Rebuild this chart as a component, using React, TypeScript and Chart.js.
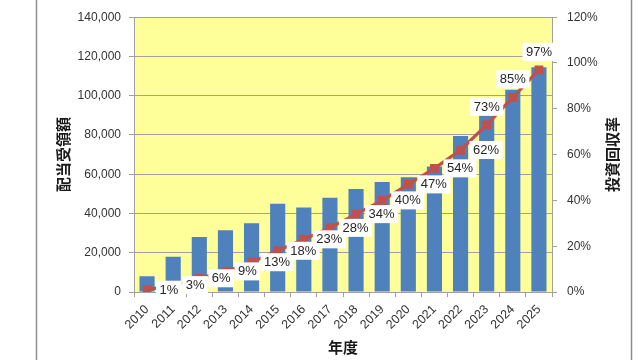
import React, { useEffect, useRef } from "react";
import { Chart, registerables } from "chart.js";

Chart.register(...registerables);

const years = ["2010", "2011", "2012", "2013", "2014", "2015", "2016", "2017", "2018", "2019", "2020", "2021", "2022", "2023", "2024", "2025"];
const dividends = [8000, 18000, 28000, 31500, 35000, 45000, 43000, 48000, 52500, 56000, 58500, 64000, 79500, 90000, 103000, 114500];
const recoveryRate = [1, 3, 6, 9, 13, 18, 23, 28, 34, 40, 47, 54, 62, 73, 85, 97];
const labelsAboveFrom = 13;

const leftTitle = "配当受領額";
const rightTitle = "投資回収率";
const xTitle = "年度";

const TICK_FONT = { family: "'Liberation Sans', Arial, sans-serif", size: 12 };
const X_TICK_FONT = { family: "'Liberation Sans', Arial, sans-serif", size: 12.5 };
const TICK_COLOR = "#333333";
const GRID = "#a0a0a0";

const decorPlugin = {
  id: "decor",
  beforeDraw(chart: any) {
    const { ctx, chartArea } = chart;
    ctx.save();
    ctx.fillStyle = "#FFFF99";
    ctx.fillRect(chartArea.left, chartArea.top, chartArea.right - chartArea.left, chartArea.bottom - chartArea.top);
    ctx.strokeStyle = "#8e8e8e";
    ctx.lineWidth = 1.5;
    ctx.beginPath();
    ctx.moveTo(36.5, 0);
    ctx.lineTo(36.5, chart.height);
    ctx.moveTo(631.5, 0);
    ctx.lineTo(631.5, chart.height);
    ctx.stroke();
    ctx.restore();
  },
  afterDraw(chart: any) {
    const { ctx, chartArea } = chart;
    const cy = (chartArea.top + chartArea.bottom) / 2;
    const cx = (chartArea.left + chartArea.right) / 2;
    ctx.save();
    ctx.fillStyle = "#1a1a1a";
    ctx.font = "bold 15px 'Noto Sans CJK JP', sans-serif";
    ctx.textAlign = "center";
    ctx.textBaseline = "middle";
    ctx.save();
    ctx.translate(63, cy);
    ctx.rotate(-Math.PI / 2);
    ctx.fillText(leftTitle, 0, 0);
    ctx.restore();
    ctx.save();
    ctx.translate(612, cy);
    ctx.rotate(-Math.PI / 2);
    ctx.fillText(rightTitle, 0, 0);
    ctx.restore();
    ctx.fillText(xTitle, cx, 347);
    ctx.restore();
  },
};

const dataLabelPlugin = {
  id: "pctLabels",
  afterDatasetsDraw(chart: any) {
    const { ctx } = chart;
    const meta = chart.getDatasetMeta(1);
    ctx.save();
    ctx.font = "13px 'Liberation Sans', Arial, sans-serif";
    ctx.textBaseline = "middle";
    ctx.textAlign = "center";
    meta.data.forEach((pt: any, i: number) => {
      const text = recoveryRate[i] + "%";
      const tw = ctx.measureText(text).width;
      const bw = tw + 7;
      const bh = 18;
      let cx: number, cy: number;
      if (i >= labelsAboveFrom) {
        cx = pt.x;
        cy = pt.y - 9 - bh / 2;
      } else {
        cx = pt.x + 9 + bw / 2;
        cy = pt.y;
      }
      ctx.fillStyle = "#ffffff";
      ctx.fillRect(cx - bw / 2, cy - bh / 2, bw, bh);
      ctx.fillStyle = "#262626";
      ctx.fillText(text, cx, cy + 0.5);
    });
    ctx.restore();
  },
};

export default function App() {
  const ref = useRef<HTMLCanvasElement>(null);
  useEffect(() => {
    if (!ref.current) return;
    const chart = new Chart(ref.current, {
      type: "bar",
      data: {
        labels: years,
        datasets: [
          {
            type: "bar",
            label: leftTitle,
            data: dividends,
            backgroundColor: "#4F81BD",
            yAxisID: "y",
            barPercentage: 0.58,
            categoryPercentage: 1,
            order: 2,
          },
          {
            type: "line",
            label: rightTitle,
            data: recoveryRate,
            borderColor: "#C0504D",
            backgroundColor: "#C0504D",
            borderWidth: 3.2,
            pointStyle: "rect",
            pointRadius: 6.2,
            pointBorderWidth: 0,
            yAxisID: "y2",
            order: 1,
          } as any,
        ],
      },
      options: {
        animation: false,
        responsive: false,
        maintainAspectRatio: false,
        layout: { padding: { top: 17, left: 0, right: 0, bottom: 0 } },
        plugins: { legend: { display: false }, tooltip: { enabled: false } },
        scales: {
          x: {
            grid: { drawOnChartArea: false, drawTicks: true, tickLength: 5, color: GRID, offset: true },
            border: { color: GRID },
            ticks: { font: X_TICK_FONT, color: TICK_COLOR, minRotation: 45, maxRotation: 45, padding: 5 },
            afterFit: (s: any) => { s.height = 68; },
          },
          y: {
            position: "left",
            min: 0,
            max: 140000,
            grid: { color: GRID, tickLength: 5 },
            border: { color: GRID },
            ticks: {
              stepSize: 20000,
              font: TICK_FONT,
              color: TICK_COLOR,
              padding: 8,
              callback: (v: any) => Number(v).toLocaleString("en-US"),
            },
            afterFit: (s: any) => { s.width = 134; },
          },
          y2: {
            position: "right",
            min: 0,
            max: 120,
            grid: { drawOnChartArea: false, color: GRID, tickLength: 5 },
            border: { color: GRID },
            ticks: {
              stepSize: 20,
              font: TICK_FONT,
              color: TICK_COLOR,
              padding: 10,
              callback: (v: any) => v + "%",
            },
            afterFit: (s: any) => { s.width = 88; },
          },
        },
      },
      plugins: [decorPlugin, dataLabelPlugin],
    });
    return () => chart.destroy();
  }, []);
  return (
    <div style={{ position: "absolute", left: 0, top: 0, width: 640, height: 360, background: "#fff" }}>
      <canvas ref={ref} width={640} height={360} style={{ width: 640, height: 360 }} />
    </div>
  );
}
